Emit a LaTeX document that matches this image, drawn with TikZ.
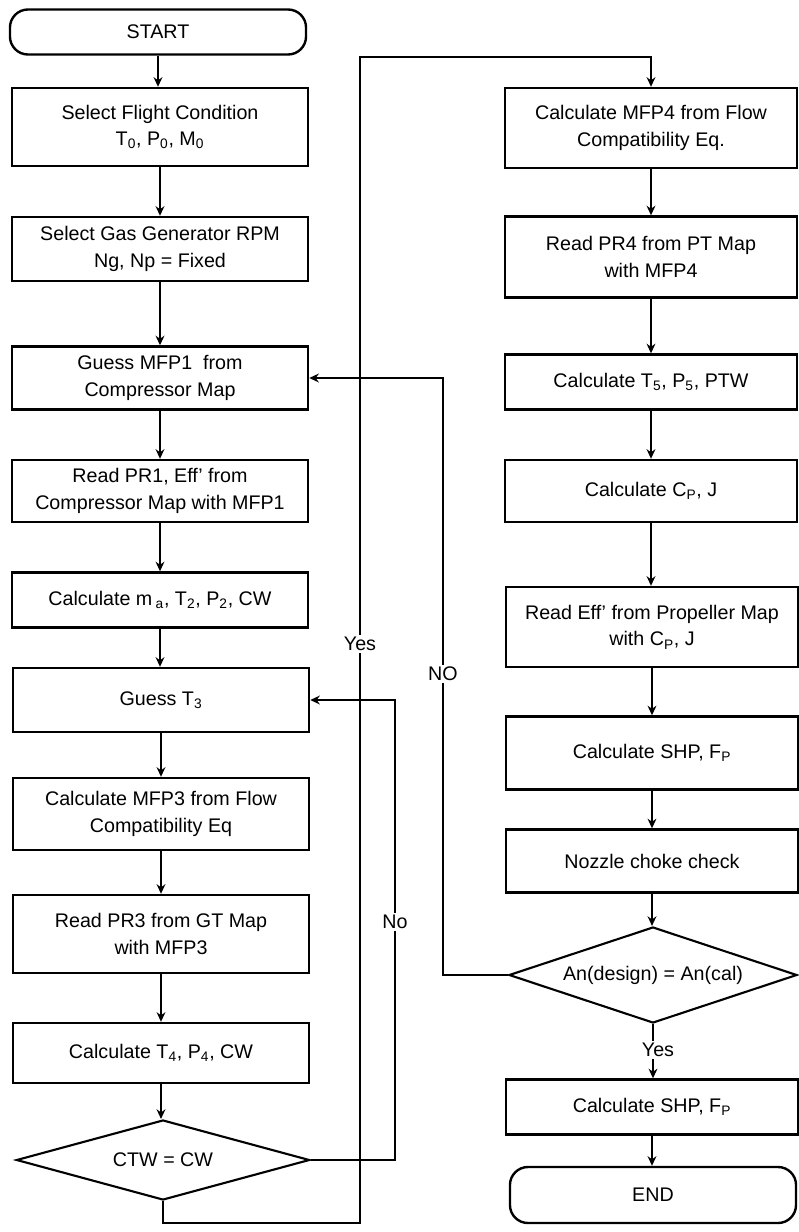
\documentclass[tikz,border=0pt]{standalone}
\usepackage{fontspec}
\setmainfont{Liberation Sans}
\usetikzlibrary{arrows.meta,shapes.geometric,calc}

\begin{document}
\begin{tikzpicture}[x=0.025cm, y=-0.025cm, >={Stealth[length=2.4mm,width=2.2mm]},
  font=\fontsize{14}{19}\selectfont,
  box/.style={rectangle, draw, line width=1.7pt, minimum width=7.4cm,
              align=center, inner sep=2pt},
  rbox/.style={box, minimum width=7.3cm},
  term/.style={box, rounded corners=0.45cm},
  decide/.style={diamond, draw, line width=1.5pt, inner sep=0pt, aspect=3.6},
  flow/.style={->, line width=1.4pt},
  lbl/.style={fill=white, inner sep=1.5pt}]
\useasboundingbox (0,0) rectangle (798,1232);

% compressor / gas turbine column
\node[term, minimum height=1.125cm] (start) at (158,32) {START};
\node[box, minimum height=1.95cm] (cond) at (160,127)
  {Select Flight Condition\\ T\textsubscript{0}, P\textsubscript{0}, M\textsubscript{0}};
\node[box, minimum height=1.6cm] (rpm) at (160,249)
  {Select Gas Generator RPM\\ Ng, Np = Fixed};
\node[box, minimum height=1.575cm] (mfpA) at (160,378)
  {Guess MFP1~ from\\ Compressor Map};
\node[box, minimum height=1.55cm] (prA) at (160,491)
  {Read PR1, Eff' from\\ Compressor Map with MFP1};
\node[box, minimum height=1.375cm] (compr) at (160,600)
  {Calculate m\,\textsubscript{a}, T\textsubscript{2}, P\textsubscript{2}, CW};
\node[box, minimum height=1.6cm] (guessT) at (161,700) {Guess T\textsubscript{3}};
\node[box, minimum height=1.8cm] (mfpB) at (161,814)
  {Calculate MFP3 from Flow\\ Compatibility Eq};
\node[box, minimum height=1.95cm] (prB) at (161,934)
  {Read PR3 from GT Map\\ with MFP3};
\node[box, minimum height=1.5cm] (turb) at (161,1053)
  {Calculate T\textsubscript{4}, P\textsubscript{4}, CW};
\node[decide, minimum width=7.33cm, minimum height=2cm] (ctw) at (163,1160) {CTW = CW};

% power turbine / propeller column
\node[rbox, minimum height=2cm] (mfpC) at (651,128)
  {Calculate MFP4 from Flow\\ Compatibility Eq.};
\node[rbox, minimum height=2.025cm] (prC) at (651,257)
  {Read PR4 from PT Map\\ with MFP4};
\node[rbox, minimum height=1.375cm] (pt) at (651,382)
  {Calculate T\textsubscript{5}, P\textsubscript{5}, PTW};
\node[rbox, minimum height=1.55cm] (cpj) at (651,491) {Calculate C\textsubscript{P}, J};
\node[rbox, minimum height=2cm] (eff) at (652,627)
  {Read Eff' from Propeller Map\\ with C\textsubscript{P}, J};
\node[rbox, minimum height=1.825cm] (shp) at (652,753) {Calculate SHP, F\textsubscript{P}};
\node[rbox, minimum height=1.575cm] (noz) at (652,861) {Nozzle choke check};
\node[decide, minimum width=7.2cm, minimum height=2.4cm] (area) at (653,975)
  {An(design) = An(cal)};
\node[rbox, minimum height=1.375cm] (shpB) at (652,1107) {Calculate SHP, F\textsubscript{P}};
\node[term, minimum width=7.15cm, minimum height=1.4cm] (end) at (653,1195) {END};

% straight links
\foreach \a/\b in {start/cond, cond/rpm, rpm/mfpA, mfpA/prA, prA/compr,
                   compr/guessT, guessT/mfpB, mfpB/prB, prB/turb, turb/ctw,
                   mfpC/prC, prC/pt, pt/cpj, cpj/eff, eff/shp, shp/noz,
                   noz/area, area/shpB, shpB/end}
  \draw[flow] (\a.south) -- (\a.south |- \b.north);

% loops back
\coordinate (yesB) at (360,1223);
\coordinate (yesT) at (360,57);
\draw[flow] (ctw.south) |- (yesB) -- (yesT) -| (mfpC.north);
\coordinate (noA) at (395,0);
\draw[flow] (ctw.east) -| (noA |- guessT.east) -- (guessT.east);
\coordinate (noB) at (443,0);
\draw[flow] (area.west) -| (noB |- mfpA.east) -- (mfpA.east);

\node[lbl] (yesL) at (360,644) {Yes};
\node[lbl] (noL) at (395,922) {No};
\node[lbl] (noR) at (443,674) {NO};
\node[lbl] (yesR) at (658,1050) {Yes};
\end{tikzpicture}
\end{document}
